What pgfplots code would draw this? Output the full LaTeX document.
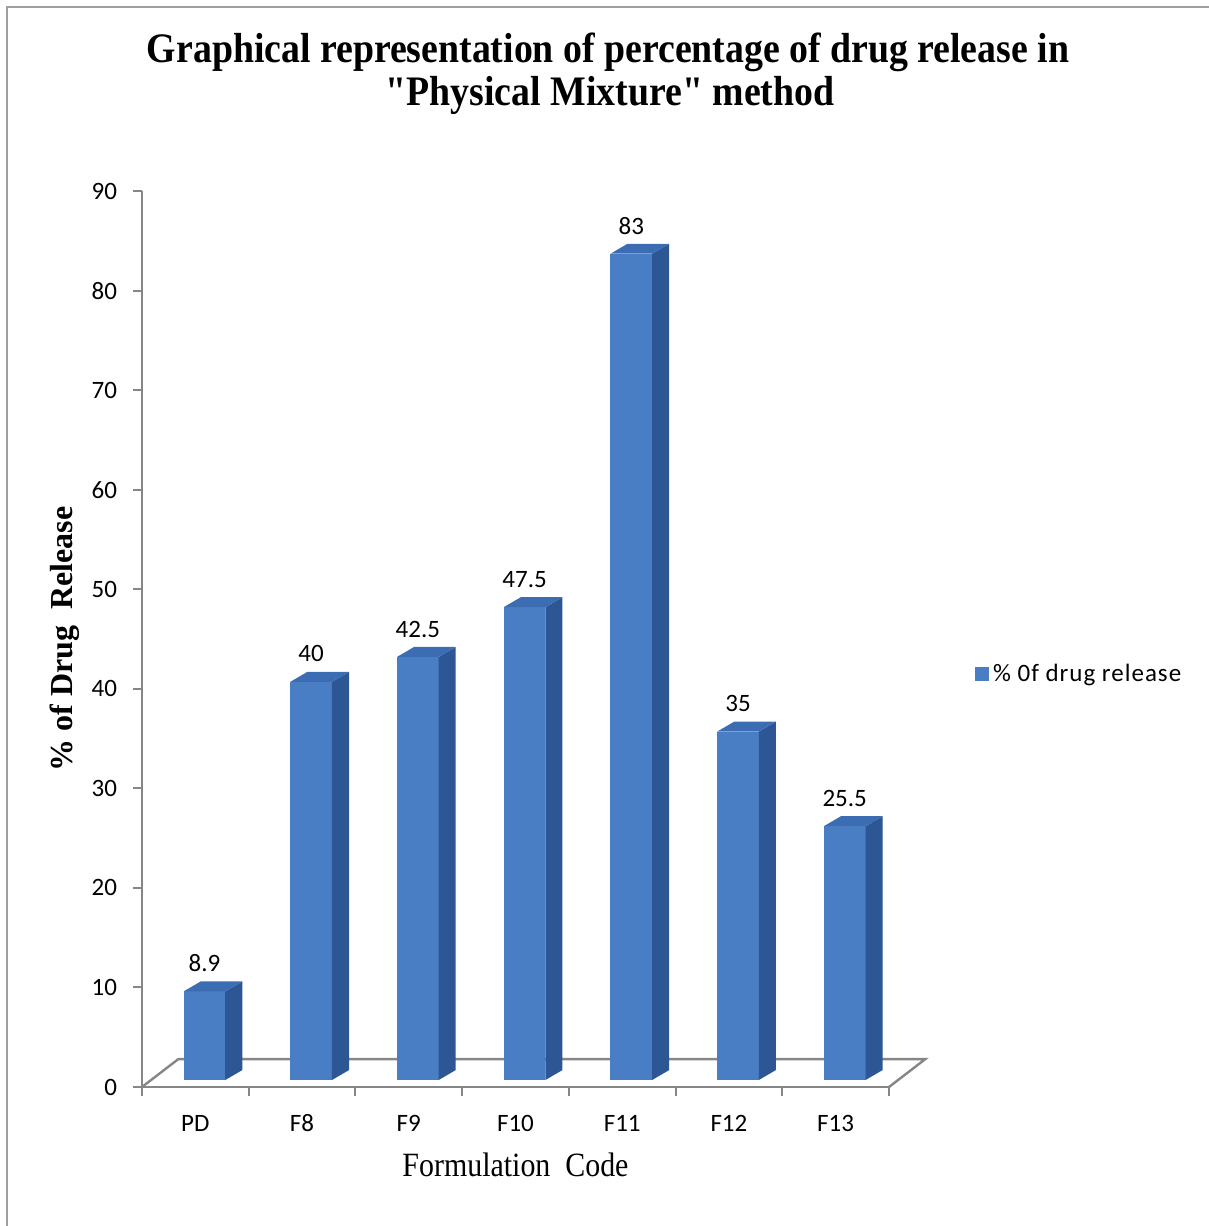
\documentclass[border=0pt]{standalone}
\usepackage{pgfplots}
\pgfplotsset{compat=1.18}
\usepackage{pgfplotstable}
\usepackage{fontspec}
\setmainfont{Carlito}
\newfontfamily\titlefont[FakeStretch=0.9]{Liberation Serif}
\newfontfamily\xlabfont[FakeStretch=0.88]{Liberation Serif}
\newfontfamily\ylabfont{Liberation Serif}

\definecolor{barfront}{RGB}{74,126,196}
\definecolor{barside}{RGB}{44,86,148}
\definecolor{bartop}{RGB}{60,108,178}
\definecolor{axisgray}{RGB}{134,134,134}

% % of drug release per formulation
\pgfplotstableread{
pos val
0 8.9
1 40
2 42.5
3 47.5
4 83
5 35
6 25.5
}\drugdata

% one pseudo-3D bar: front, side and top faces
\newcommand\tdbar[2]{%
  \pgfmathsetmacro\bL{#1-0.11}%
  \pgfmathsetmacro\bR{#1+0.28}%
  \pgfmathsetmacro\bRd{#1+0.44}%
  \pgfmathsetmacro\bLd{#1+0.05}%
  \pgfmathsetmacro\bT{#2+0.7}%
  \pgfmathsetmacro\bTd{#2+1.7}%
  \edef\doface{%
    \noexpand\addplot[draw=none, fill=barfront, forget plot] coordinates {(\bL,0.7) (\bR,0.7) (\bR,\bT) (\bL,\bT)};
    \noexpand\addplot[draw=none, fill=barside, forget plot] coordinates {(\bR,0.7) (\bRd,1.7) (\bRd,\bTd) (\bR,\bT)};
    \noexpand\addplot[draw=none, fill=bartop, forget plot] coordinates {(\bL,\bT) (\bR,\bT) (\bRd,\bTd) (\bLd,\bTd)};
  }\doface
}

\begin{document}
\begin{tikzpicture}
\useasboundingbox (0,0) rectangle (604.5pt,613pt);
\draw[gray!75, line width=1pt] (3.5pt,0pt) -- (3.5pt,609.5pt) -- (604.5pt,609.5pt);

\node[anchor=base, font=\titlefont\bfseries\fontsize{21}{25}\selectfont] at (304pt,581.5pt)
  {Graphical representation of percentage of drug release in};
\node[anchor=base, font=\titlefont\bfseries\fontsize{21}{25}\selectfont] at (305pt,560pt)
  {\symbol{34}Physical Mixture\symbol{34} method};

\begin{axis}[
    at={(71pt,69.5pt)}, anchor=south west,
    scale only axis, width=373.5pt, height=448pt,
    xmin=-0.5, xmax=6.5, ymin=0, ymax=90,
    clip=false,
    axis lines*=left,
    axis line style={axisgray, line width=1.3pt},
    tick align=outside,
    major tick length=4.5pt, minor tick length=4.5pt,
    tick style={axisgray, line width=1pt},
    ytick={0,10,...,90},
    xtick={0,...,6},
    xticklabels={PD,F8,F9,F10,F11,F12,F13},
    minor xtick={-0.5,0.5,...,6.5},
    major x tick style={draw=none},
    tick label style={font=\fontsize{12.5}{15}\selectfont},
    xticklabel style={anchor=base, yshift=-17.5pt},
    yticklabel style={xshift=-4.5pt},
    /pgf/number format/assume math mode=true,
    xlabel={Formulation\ \ Code},
    ylabel={\% of Drug\ \ Release},
    xlabel style={at={(axis description cs:0.5,-0.087)}, anchor=center,
      font=\xlabfont\fontsize{17}{20}\selectfont},
    ylabel style={at={(axis description cs:-0.103,0.5)}, anchor=center,
      font=\ylabfont\bfseries\fontsize{16}{19}\selectfont},
    legend style={at={(axis description cs:1.115,0.461)}, anchor=west,
      draw=none, fill=none, inner sep=0pt,
      font=\addfontfeature{LetterSpace=4}\fontsize{12.5}{15}\selectfont,
      /tikz/every even column/.append style={column sep=2.5pt}},
  ]
  % floor of the 3D plot area
  \addplot[axisgray, line width=1.2pt, forget plot] coordinates {(-0.5,0) (-0.16,2.8) (6.84,2.8) (6.5,0)};

  \pgfplotsforeachungrouped \i in {0,...,6}{%
    \pgfplotstablegetelem{\i}{val}\of\drugdata
    \let\barval\pgfplotsretval
    \tdbar{\i}{\barval}%
  }

  % value labels
  \addplot[draw=none, forget plot, nodes near coords, point meta=explicit symbolic,
    every node near coord/.append style={anchor=center, black,
      font=\fontsize{12.5}{15}\selectfont}]
    table[x expr=\thisrow{pos}+0.085, y expr=\thisrow{val}+3.5, meta=val] {\drugdata};

  \addlegendimage{legend image code/.code={\fill[barfront] (0pt,-3.25pt) rectangle (6.5pt,3.25pt);}}
  \addlegendentry{\% 0f drug release}
\end{axis}
\end{tikzpicture}
\end{document}
